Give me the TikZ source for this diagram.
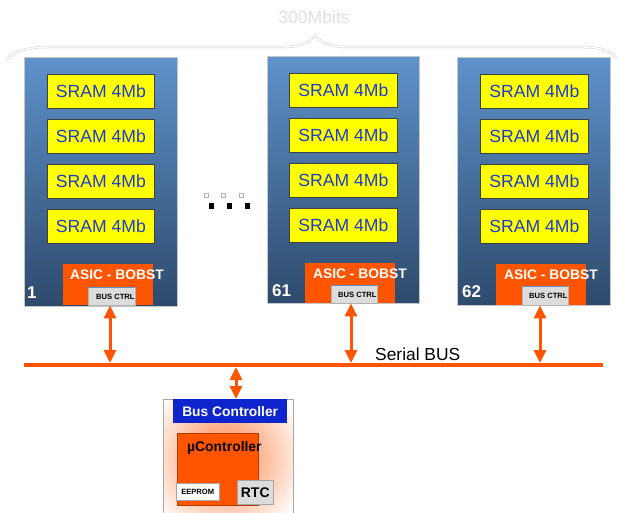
\documentclass[tikz,border=0pt]{standalone}
\usepackage{fontspec}
\setmainfont{Liberation Sans}
\usetikzlibrary{arrows.meta}
\definecolor{boardtop}{RGB}{94,146,202}
\definecolor{boardbot}{RGB}{46,74,108}
\definecolor{sramfill}{RGB}{255,255,0}
\definecolor{sramtext}{RGB}{30,60,210}
\definecolor{orng}{RGB}{255,85,0}
\definecolor{ctrlgray}{RGB}{220,220,220}
\definecolor{hdrblue}{RGB}{14,36,204}
\tikzset{
  board/.style={draw=gray!45, line width=0.6pt, top color=boardtop, bottom color=boardbot, anchor=north west, inner sep=0pt},
  sram/.style={draw=black!75, line width=0.8pt, fill=sramfill, anchor=north west, inner sep=0pt,
     minimum height=34pt, text=sramtext, font=\fontsize{17.6}{18}\selectfont},
  asic/.style={fill=orng, anchor=north west, inner sep=0pt},
  asictxt/.style={anchor=west, inner sep=0pt, text=white, font=\bfseries\fontsize{13.8}{14}\selectfont},
  busctrl/.style={fill=ctrlgray, draw=gray!60, line width=0.4pt, anchor=north west, inner sep=0pt},
  busctrltxt/.style={anchor=west, inner sep=0pt, font=\bfseries\fontsize{7.6}{8}\selectfont},
  numtxt/.style={anchor=west, inner sep=0pt, text=white, font=\bfseries\fontsize{17}{17}\selectfont},
  busarrow/.style={draw=orng, line width=3pt, {Triangle[width=12pt,length=13pt]}-{Triangle[width=12pt,length=13pt]}},
  whitedot/.style={draw=gray!60, line width=0.4pt, fill=white, minimum size=4.5pt, inner sep=0pt},
  blackdot/.style={fill=black, minimum size=5.5pt, inner sep=0pt},
}
\begin{document}
\begin{tikzpicture}[x=1pt,y=-1pt]
\useasboundingbox (0,0) rectangle (618,512);
% brace
\draw[draw=gray!35, line width=0.5pt, double=white, double distance=1.4pt]
  (6,60) .. controls (16,50) and (30,47) .. (50,47) -- (282,47)
  .. controls (300,47) and (310,43) .. (315,35)
  .. controls (320,43) and (330,47) .. (348,47) -- (580,47)
  .. controls (600,47) and (610,50) .. (616,58);
% boards
\node[board, minimum width=153pt, minimum height=249pt] (B1) at (24,57) {};
\node[board, minimum width=152pt, minimum height=247pt] (B61) at (267,56) {};
\node[board, minimum width=153pt, minimum height=248pt] (B62) at (457,57) {};
% SRAMs
\foreach \i/\y in {1/74,2/119,3/164,4/209}{
  \node[sram, minimum width=107pt] (s1\i) at (47,\y) {SRAM 4Mb};
  \node[sram, minimum width=108pt] (s61\i) at (289,\y-1) {SRAM 4Mb};
  \node[sram, minimum width=108pt] (s62\i) at (480,\y) {SRAM 4Mb};
}
% ASICs
\node[asic, minimum width=90pt, minimum height=41pt] (A1) at (63,264) {};
\node[asic, minimum width=90pt, minimum height=40pt] (A61) at (305,263) {};
\node[asic, minimum width=90pt, minimum height=41pt] (A62) at (496,264) {};
\node[asictxt] (at1) at (70,275) {ASIC - BOBST};
\node[asictxt] (at61) at (313,274) {ASIC - BOBST};
\node[asictxt] (at62) at (504,275) {ASIC - BOBST};
% bus ctrl boxes
\node[busctrl, minimum width=47pt, minimum height=18pt] (bc1) at (88,287) {};
\node[busctrl, minimum width=46pt, minimum height=18pt] (bc61) at (331,285) {};
\node[busctrl, minimum width=46pt, minimum height=19pt] (bc62) at (522,286) {};
\draw[boardtop, line width=0.8pt] (bc1.north west) -- (bc1.north east);
\draw[boardtop, line width=0.8pt] (bc61.north west) -- (bc61.north east);
\draw[boardtop, line width=0.8pt] (bc62.north west) -- (bc62.north east);
\node[busctrltxt] (bt1) at (96,296.5) {BUS CTRL};
\node[busctrltxt] (bt61) at (338,294.5) {BUS CTRL};
\node[busctrltxt] (bt62) at (529,295.5) {BUS CTRL};
% numbers
\node[numtxt] (n1) at (27,293) {1};
\node[numtxt] (n61) at (272,291) {61};
\node[numtxt] (n62) at (462,292) {62};
% dots
\node[whitedot] (w1) at (206,195) {};
\node[whitedot] (w2) at (223,195) {};
\node[whitedot] (w3) at (241,195) {};
\node[blackdot] (k1) at (211.5,206) {};
\node[blackdot] (k2) at (229.5,206) {};
\node[blackdot] (k3) at (247.5,206) {};
% serial bus
\coordinate (busL) at (24,365);
\coordinate (busR) at (603,365);
\draw[orng, line width=4pt] (busL) -- (busR);
\node[anchor=west, inner sep=0pt, font=\fontsize{17.4}{18}\selectfont] (sb) at (375,354) {Serial BUS};
\coordinate (p1) at (110,363);
\coordinate (p61) at (351,363);
\coordinate (p62) at (540,363);
\draw[busarrow] (bc1.south -| p1) -- (p1);
\draw[busarrow] (bc61.south -| p61) -- (p61);
\draw[busarrow] (bc62.south -| p62) -- (p62);
% bus controller
\node[draw=gray!70, line width=0.6pt, fill=white, anchor=north west, inner sep=0pt, minimum width=130pt, minimum height=120pt] (BC) at (163,399) {};
\begin{scope}
  \clip (163.5,399.5) rectangle (292.5,512);
  \shade[inner color={rgb,255:red,255;green,130;blue,70}, outer color=white] (225,458) circle (85);
\end{scope}
\draw[gray!70, line width=0.6pt] (163,512) -- (163,399) -- (293,399) -- (293,512);
\node[fill=hdrblue, anchor=north west, inner sep=0pt, minimum width=114pt, minimum height=24pt,
  text=white, font=\bfseries\fontsize{13.8}{14}\selectfont] (hdr) at (173,399) {Bus Controller};
\coordinate (pbc) at (236,367);
\draw[busarrow] (hdr.north -| pbc) -- (pbc);
\node[fill=orng, draw=orng!70!black, line width=0.5pt, anchor=north west, inner sep=0pt, minimum width=81pt, minimum height=72pt] (uc) at (177,433) {};
\node[anchor=west, inner sep=0pt, font=\bfseries\fontsize{13.9}{14}\selectfont] (uct) at (187,448) {µController};
\node[fill=white, draw=gray!70, line width=0.5pt, anchor=north west, inner sep=0pt, minimum width=43pt, minimum height=17pt,
  font=\bfseries\fontsize{7.6}{8}\selectfont] (ee) at (176,483) {EEPROM};
\node[fill=ctrlgray, draw=gray!70, line width=0.5pt, anchor=north west, inner sep=0pt, minimum width=36pt, minimum height=24pt,
  font=\bfseries\fontsize{14}{14}\selectfont] (rtc) at (237,480) {RTC};
% title
\node[inner sep=0pt, text=gray!25, font=\fontsize{17.6}{18}\selectfont] (title) at (314,17) {300Mbits};
\end{tikzpicture}
\end{document}
